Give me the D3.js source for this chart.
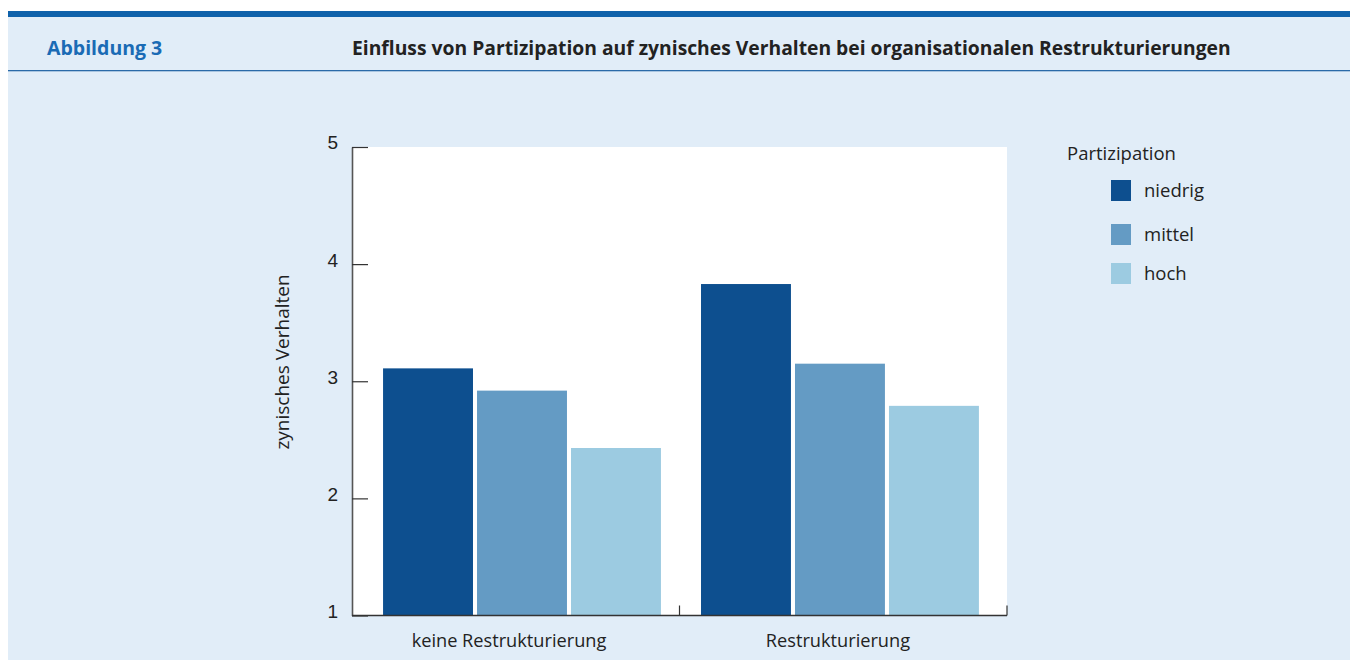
<!DOCTYPE html>
<html>
<head>
<meta charset="utf-8">
<script src="https://cdn.jsdelivr.net/npm/d3@7"></script>
<style>
  body { margin: 0; background: #fff; }
  svg { display: block; font-family: "Open Sans", sans-serif; }
</style>
</head>
<body>
<div id="chart"></div>
<script>
// data
var groups = ["keine Restrukturierung", "Restrukturierung"]
var levels = ["niedrig", "mittel", "hoch"]
var niedrig = [3.11, 3.83]
var mittel = [2.92, 3.15]
var hoch = [2.43, 2.79]
var yTicks = [1, 2, 3, 4, 5]
var colors = ["#0d4f8f", "#649bc4", "#9ccbe1"]

var series = [niedrig, mittel, hoch]
var data = groups.map(function (g, i) {
  return {
    group: g,
    values: levels.map(function (l, j) { return {level: l, value: series[j][i]} })
  }
})

var W = 1358, H = 660
var svg = d3.select("#chart").append("svg")
  .attr("width", W)
  .attr("height", H)

// frame
svg.append("rect").attr("x", 8).attr("y", 17).attr("width", W - 16).attr("height", H - 17).attr("fill", "#e1edf8")
svg.append("rect").attr("x", 8).attr("y", 11).attr("width", W - 16).attr("height", 6).attr("fill", "#0f62ab")
svg.append("rect").attr("x", 8).attr("y", 70).attr("width", W - 16).attr("height", 1.3).attr("fill", "#2a6aa8")

svg.append("text")
  .attr("x", 47).attr("y", 55)
  .attr("fill", "#1a6bb5")
  .style("font-weight", 700)
  .style("font-size", "19.5px")
  .text("Abbildung 3")

svg.append("text")
  .attr("x", 352).attr("y", 55)
  .attr("fill", "#222")
  .style("font-weight", 700)
  .style("font-size", "19.3px")
  .text("Einfluss von Partizipation auf zynisches Verhalten bei organisationalen Restrukturierungen")

var margin = {top: 147, left: 352, right: 1007, bottom: 615.5}

var x0 = d3.scaleBand()
  .domain(groups)
  .range([margin.left, margin.right])
  .paddingInner(0.126)
  .paddingOuter(0.093)
  .align(0.525)

var x1 = d3.scaleBand()
  .domain(levels)
  .range([0, x0.bandwidth()])
  .paddingInner(0.043)

var y = d3.scaleLinear()
  .domain([1, 5])
  .range([margin.bottom, margin.top])

var color = d3.scaleOrdinal().domain(levels).range(colors)

// plot area
svg.append("rect")
  .attr("x", margin.left).attr("y", margin.top)
  .attr("width", margin.right - margin.left)
  .attr("height", margin.bottom - margin.top)
  .attr("fill", "#fff")

var g = svg.selectAll(".grp")
  .data(data)
  .enter().append("g")
    .attr("class", "grp")
    .attr("transform", function (d) { return "translate(" + x0(d.group) + ",0)" })

g.selectAll("rect")
  .data(function (d) { return d.values })
  .enter().append("rect")
    .attr("x", function (d) { return x1(d.level) })
    .attr("width", x1.bandwidth())
    .attr("y", function (d) { return y(d.value) })
    .attr("height", function (d) { return y(1) - y(d.value) })
    .attr("fill", function (d) { return color(d.level) })

// y axis
var yAxis = svg.append("g")
  .attr("transform", "translate(" + margin.left + ",0)")
  .call(d3.axisLeft(y).tickValues(yTicks).tickFormat(d3.format("d")).tickSizeInner(-16).tickSizeOuter(0).tickPadding(14))
yAxis.select(".domain").attr("stroke", "#555").attr("stroke-width", 1.6)
yAxis.selectAll(".tick line").attr("stroke", "#333").attr("stroke-width", 1.2)
yAxis.selectAll(".tick text").attr("fill", "#222").style("font-size", "19px").attr("dy", "0.1em")

// x axis: separators at band edges, labels centered under groups
var xAxis = svg.append("g")
  .attr("transform", "translate(0," + margin.bottom + ")")
xAxis.append("line")
  .attr("x1", margin.left).attr("x2", margin.right)
  .attr("stroke", "#333").attr("stroke-width", 1.4)
var mid = (margin.left + margin.right) / 2
xAxis.selectAll(".sep")
  .data([mid, margin.right])
  .enter().append("line")
    .attr("class", "sep")
    .attr("x1", function (d) { return d }).attr("x2", function (d) { return d })
    .attr("y1", 0).attr("y2", -10)
    .attr("stroke", "#333").attr("stroke-width", 1.2)
xAxis.selectAll(".lbl")
  .data(groups)
  .enter().append("text")
    .attr("class", "lbl")
    .attr("x", function (d) { return x0(d) + x0.bandwidth() / 2 - (d === groups[0] ? 13 : 2) })
    .attr("y", 31)
    .attr("text-anchor", "middle")
    .attr("fill", "#222")
    .style("font-size", "18.2px")
    .text(function (d) { return d })

svg.append("text")
  .attr("transform", "translate(289,362) rotate(-90)")
  .attr("text-anchor", "middle")
  .attr("fill", "#222")
  .style("font-size", "19px")
  .text("zynisches Verhalten")

// legend
var legend = svg.append("g").attr("transform", "translate(1067,0)")
legend.append("text")
  .attr("x", 0).attr("y", 160)
  .attr("fill", "#222")
  .style("font-size", "18.5px")
  .text("Partizipation")
var legY = [190, 234, 273]
var item = legend.selectAll(".item")
  .data(levels)
  .enter().append("g")
    .attr("class", "item")
    .attr("transform", function (d, i) { return "translate(44," + legY[i] + ")" })
item.append("rect")
  .attr("x", 0).attr("y", -10)
  .attr("width", 20).attr("height", 21)
  .attr("fill", function (d) { return color(d) })
item.append("text")
  .attr("x", 33).attr("y", 7)
  .attr("fill", "#222")
  .style("font-size", "18.5px")
  .text(function (d) { return d })
</script>
</body>
</html>
